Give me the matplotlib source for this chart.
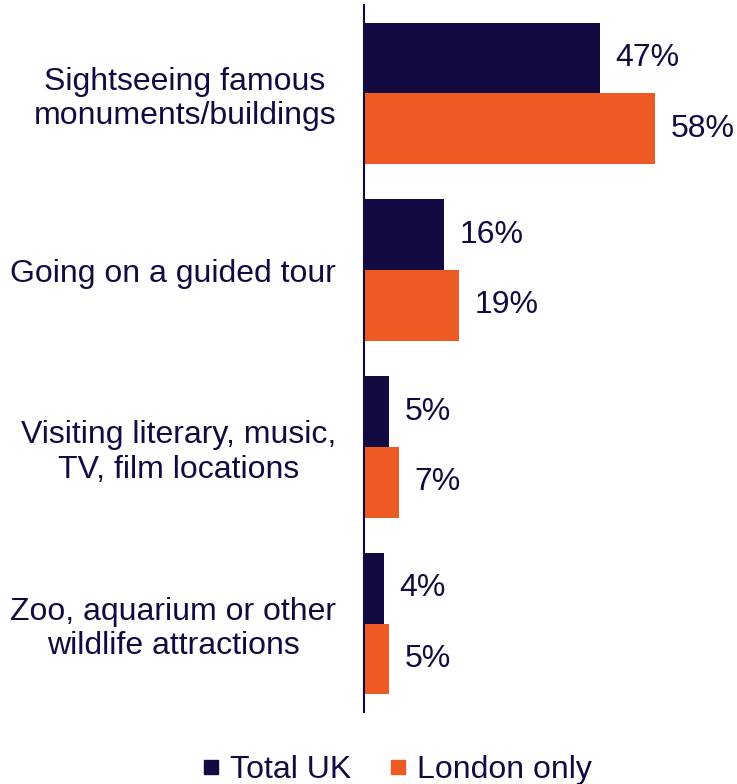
import matplotlib
matplotlib.use("Agg")
import matplotlib.pyplot as plt
from matplotlib.lines import Line2D
import numpy as np

categories = [
    "Sightseeing famous\nmonuments/buildings",
    "Going on a guided tour",
    "Visiting literary, music,\nTV, film locations",
    "Zoo, aquarium or other\nwildlife attractions",
]
total_uk = [47, 16, 5, 4]
london_only = [58, 19, 7, 5]
series_names = ["Total UK", "London only"]

NAVY = "#140A42"
ORANGE = "#EE5A24"
TEXT = "#140A42"

plt.rcParams["font.family"] = ["Liberation Sans", "DejaVu Sans"]

fig = plt.figure(figsize=(7.37, 7.84), dpi=100)
W, H = 737, 784
ax = fig.add_axes([364 / W, 1 - 712 / H, (W - 364) / W, (712 - 5) / H])

y = np.arange(len(categories))
h = 0.40
ax.barh(y - h / 2, total_uk, height=h, color=NAVY)
ax.barh(y + h / 2, london_only, height=h, color=ORANGE)

for yi, v in zip(y, total_uk):
    ax.annotate(f"{v}%", (v, yi - h / 2), xytext=(11, 0), textcoords="offset points",
                va="center", ha="left", fontsize=23, color=TEXT)
for yi, v in zip(y, london_only):
    ax.annotate(f"{v}%", (v, yi + h / 2), xytext=(11, 0), textcoords="offset points",
                va="center", ha="left", fontsize=23, color=TEXT)

ax.set_xlim(0, (W - 364) / 5.02)
ax.set_ylim(len(categories) - 0.5, -0.5)
ax.set_yticks(y)
ax.set_yticklabels(categories, fontsize=23, color=TEXT, multialignment="center",
                   linespacing=1.18)
ax.tick_params(axis="y", length=0, pad=20)
ax.set_xticks([])
for s in ["top", "right", "bottom"]:
    ax.spines[s].set_visible(False)
ax.spines["left"].set_color(NAVY)
ax.spines["left"].set_linewidth(1.5)

handles = [
    Line2D([], [], marker="s", linestyle="none", markersize=10.5, color=NAVY),
    Line2D([], [], marker="s", linestyle="none", markersize=10.5, color=ORANGE),
]
leg = fig.legend(handles, series_names, loc="lower center", bbox_to_anchor=(397 / W, -0.038),
                 ncol=2, frameon=False, fontsize=23, handlelength=0.55,
                 handletextpad=0.3, columnspacing=1.2)
for t in leg.get_texts():
    t.set_color(TEXT)

fig.savefig("out.png", dpi=100)
